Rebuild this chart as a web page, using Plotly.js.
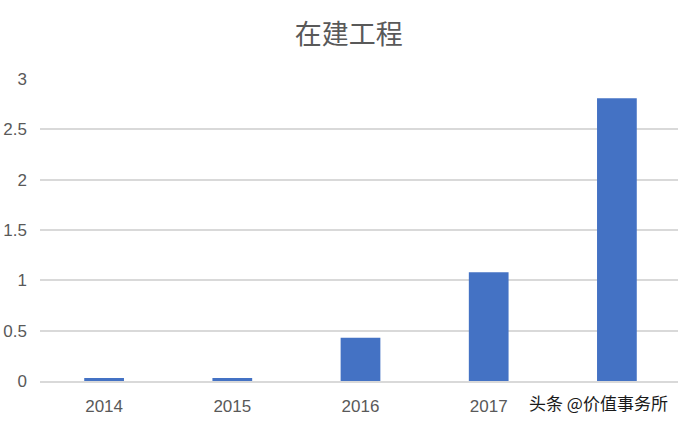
<!DOCTYPE html>
<html>
<head>
<meta charset="utf-8">
<script src="https://cdn.plot.ly/plotly-3.0.1.min.js"></script>
<style>
  html, body { margin: 0; padding: 0; background: #fff; overflow: hidden; }
  #chart { width: 678px; height: 422px; overflow: hidden; }
</style>
</head>
<body>
<div id="chart"></div>
<script>
// values
const years = ['2014', '2015', '2016', '2017', '2018'];
const values = [0.03, 0.03, 0.43, 1.08, 2.81];
// the 2018 label sits under the watermark in the picture
const yearLabels = ['2014', '2015', '2016', '2017', ''];
const yTicks = [0, 0.5, 1, 1.5, 2, 2.5, 3];
const yTickText = ['0', '0.5', '1', '1.5', '2', '2.5', '3'];

const trace = {
    x: years,
    y: values,
    type: 'bar',
    marker: { color: '#4472c4' },
    hoverinfo: 'x+y'
};

const layout = {
    width: 681,
    height: 422,
    title: {
        text: '在建工程',
        x: 0.512,
        y: 0.94,
        xanchor: 'center',
        font: { family: 'Noto Sans CJK SC', size: 27, color: '#595959' }
    },
    xaxis: {
        type: 'category',
        tickvals: years,
        ticktext: yearLabels,
        showgrid: false,
        showline: true,
        linecolor: '#d9d9d9',
        linewidth: 1.5,
        ticks: '',
        ticklabelstandoff: 9,
        tickfont: { family: 'Liberation Sans', size: 17, color: '#595959' }
    },
    yaxis: {
        range: [0, 3],
        tickvals: yTicks,
        ticktext: yTickText,
        showgrid: true,
        gridcolor: '#d9d9d9',
        gridwidth: 1.5,
        zeroline: false,
        showline: false,
        ticks: '',
        ticklabelstandoff: 12,
        tickfont: { family: 'Liberation Sans', size: 17, color: '#595959' }
    },
    bargap: 0.69,
    showlegend: false,
    plot_bgcolor: 'white',
    paper_bgcolor: 'white',
    margin: { l: 40, r: 0, t: 79, b: 41 },
    annotations: [{
        text: '头条 @价值事务所',
        xref: 'paper', yref: 'paper',
        x: 0.76, y: -0.072,
        xanchor: 'left', yanchor: 'middle',
        showarrow: false,
        font: { family: 'Noto Sans CJK SC', size: 17, color: '#1a1a1a' }
    }]
};

Plotly.newPlot('chart', [trace], layout, { displayModeBar: false });
</script>
</body>
</html>
